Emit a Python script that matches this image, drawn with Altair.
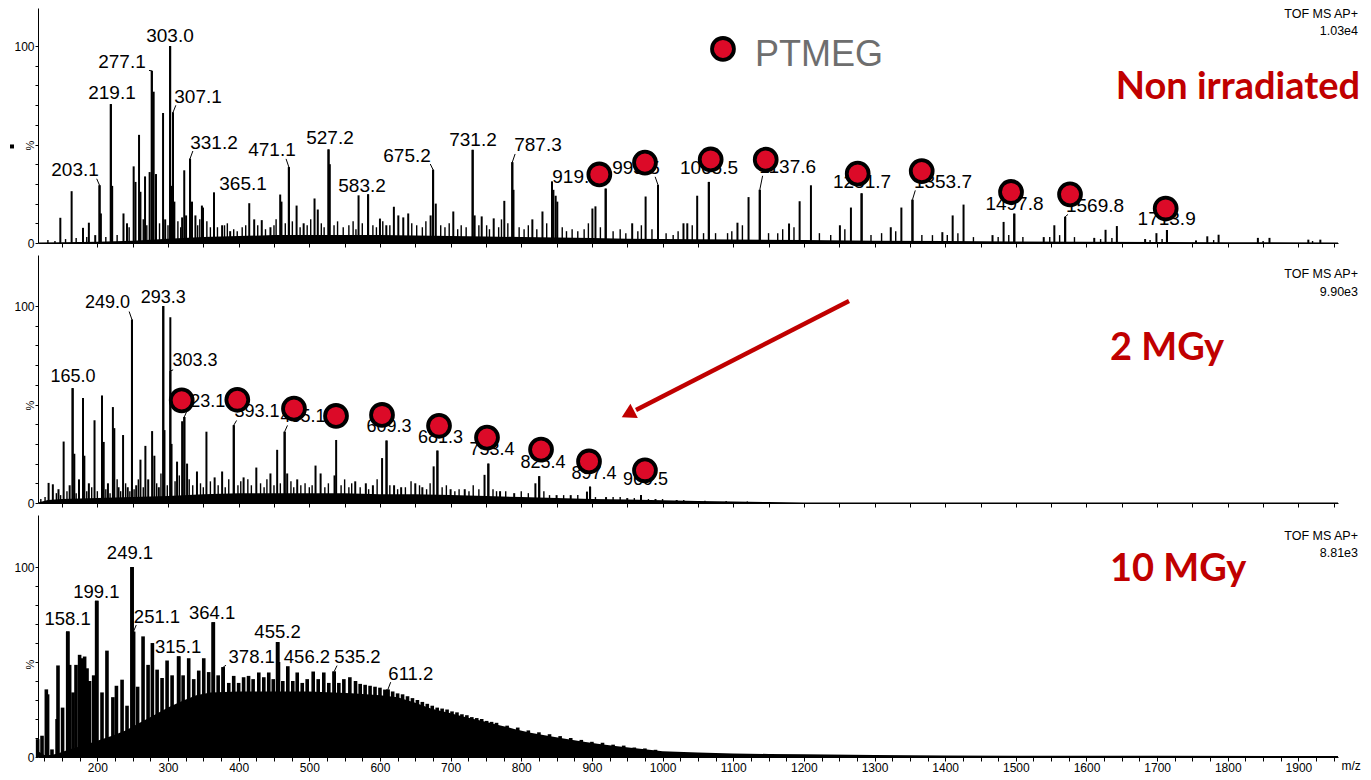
import altair as alt
import pandas as pd

FONT = "Liberation Sans"
RED = "#C00000"
DOT = "#DC0A28"
MZ_DOMAIN = [116, 1956]
W = 1300

# ---------------- Non irradiated (top) ----------------
top_peaks = [(147.6,12.8),(163.6,26.3),(179.7,7.7),(188.0,10.3),(197.0,4.0),(203.1,29.3),(205.0,15.0),(219.1,70.5),(221.0,29.0),(237.0,15.0),(242.0,10.0),(251.4,38.9),(254.0,31.0),(259.0,54.9),(261.0,26.0),(267.5,33.8),(274.0,36.0),(277.1,87.4),(279.7,76.8),(283.0,35.0),(293.0,66.0),(296.0,12.0),(303.0,100.0),(304.8,29.0),(307.1,66.3),(309.0,21.0),(320.0,13.0),(323.0,36.9),(325.6,14.0),(331.2,42.8),(334.0,21.0),(338.8,14.0),(348.0,19.0),(349.5,18.0),(365.1,25.6),(376.6,9.0),(388.0,6.0),(415.0,20.2),(422.0,12.0),(432.7,11.6),(445.0,8.0),(458.8,24.6),(460.6,21.0),(471.1,38.5),(482.0,19.0),(492.0,10.0),(507.4,22.6),(512.0,17.0),(527.2,47.5),(529.0,40.0),(569.7,24.2),(583.2,24.7),(600.0,12.4),(609.0,9.0),(619.7,18.4),(626.0,14.0),(633.0,13.0),(640.0,15.0),(671.7,14.0),(675.2,37.2),(679.0,20.0),(703.8,16.0),(731.2,47.3),(734.0,14.0),(744.0,13.5),(761.0,12.5),(776.0,21.4),(787.3,41.0),(789.0,27.0),(815.7,12.0),(830.0,16.0),(843.5,31.3),(845.5,27.0),(848.7,24.0),(851.0,21.0),(900.7,17.5),(905.0,18.6),(919.5,27.6),(957.0,10.0),(976.0,23.6),(993.5,29.5),(1029.6,10.0),(1035.0,10.0),(1049.0,24.0),(1065.5,31.0),(1106.0,10.3),(1121.7,23.3),(1137.6,27.0),(1179.0,9.9),(1194.0,21.2),(1210.0,29.3),(1251.0,9.0),(1266.6,18.0),(1281.7,25.2),(1323.0,8.0),(1338.0,18.0),(1353.7,22.0),(1396.0,5.5),(1410.6,14.0),(1426.0,19.5),(1467.0,4.0),(1482.7,10.7),(1497.8,14.9),(1539.5,3.0),(1554.5,9.0),(1569.8,13.3),(1611.0,2.6),(1627.0,6.7),(1643.0,8.6),(1683.0,2.0),(1699.0,5.0),(1713.9,6.6),(1755.0,1.3),(1771.0,3.4),(1787.0,4.2),(1842.6,2.6),(1859.0,2.6),(1914.0,1.7),(1931.0,1.7)]
top_grass = [(130,1.5),(140,1),(155,2),(170,2.5),(185,3),(212,3),(228,4),(245,8),(265,12),(270,9),(288,10),(300,9),(314,11),(318,8),(342,9),(345,12),(355,11),(360,8),(370,8),(380,9),(384,10),(393,7),(398,6),(405,8),(410,9),(427,9),(438,7),(450,9),(453,12),(466,10),(476,11),(487,8),(497,9),(502,12),(517,10),(521,8),(535,9),(540,11),(548,8),(556,9),(562,11),(566,7),(575,10),(590,9),(595,8),(604,11),(614,9),(645,10),(652,9),(660,8),(665,11),(686,9),(692,8),(698,10),(710,7),(715,9),(722,8),(740,9),(751,9),(755,7),(768,8),(772,12),(781,10),(797,8),(804,7),(810,9),(822,7),(836,10),(858,8),(864,6),(872,7),(880,6),(889,7),(895,10),(912,8),(930,6),(940,7),(948,5),(965,6),(970,9),(985,7),(1005,5),(1015,4),(1022,6),(1042,9),(1058,5),(1075,5),(1092,5),(1098,6),(1113,9),(1150,5),(1163,5),(1170,7),(1186,8),(1222,5),(1238,4),(1258,7),(1295,4),(1310,5),(1330,6),(1367,4),(1382,4),(1403,4),(1418,5),(1440,3),(1475,3),(1490,4),(1510,3),(1548,3),(1562,4),(1583,3),(1620,2),(1636,2.5),(1690,1.5),(1707,2),(1780,1.5),(1850,1),(1920,1)]
top_floor = [(116,0.2),(150,0.4),(200,0.6),(250,1.2),(300,2.2),(350,3.0),(400,3.5),(450,4.0),(500,4.0),(550,4.0),(600,4.0),(650,3.8),(700,3.6),(750,3.3),(800,3.0),(850,2.8),(900,2.5),(950,2.2),(1000,2.0),(1100,1.8),(1200,1.5),(1300,1.2),(1400,1.0),(1500,0.8),(1600,0.6),(1700,0.5),(1800,0.4),(1956,0.3)]
# text, label m/z, label %, peak m/z, peak %, leader
top_labels = [("303.0",302.8,105.1,303.0,100,False),("277.1",234.9,91.9,277.1,87.4,True),("219.1",220.7,76.3,219.1,70.5,False),("307.1",342.5,74.2,307.1,66.3,True),("331.2",365.1,51.0,331.2,42.8,True),("471.1",447.2,47.0,471.1,38.5,True),("527.2",529.3,53.5,527.2,47.5,False),("203.1",168.4,36.9,203.1,29.3,True),("365.1",406.2,29.8,365.1,25.6,True),("583.2",574.6,28.8,583.2,24.7,False),("675.2",638.3,44.4,675.2,37.2,True),("731.2",731.7,52.5,731.2,47.3,False),("787.3",823.7,49.5,787.3,41.0,True),("919.5",877.5,33.3,919.5,27.6,False),("993.5",962.4,37.9,993.5,29.5,True),("1065.5",1065.7,37.9,1065.5,31.0,False),("1137.6",1177.1,38.4,1137.6,27.0,True),("1281.7",1282.3,31.0,1281.7,25.2,False),("1353.7",1396.9,31.0,1353.7,22.0,True),("1497.8",1498.1,19.7,1497.8,14.9,False),("1569.8",1612.1,18.8,1569.8,13.3,True),("1713.9",1713.5,12.1,1713.9,6.6,False)]
top_markers = [(910.5,34.8),(975.1,40.8),(1068.1,42.4),(1146.0,42.3),(1276.2,35.2),(1366.8,36.5),(1493.2,25.9),(1576.7,24.7),(1712.1,17.5)]
top_tof = [("TOF MS AP+",1984.3,116.0),("1.03e4",1984.3,107.6)]
top_name = [("Non irradiated",1987.2,78.7)]
legend_dot = [(1085.5,98.5)]
legend_text = [("PTMEG",1130.8,95.4)]
top_square = [(79.2,49.0)]

# ---------------- 2 MGy (middle) ----------------
mid_peaks = [(131,10.2),(137,9.5),(145,7),(152.3,31.2),(160.8,9),(165.0,58.3),(167.4,25),(174,12),(179.7,53.3),(181.6,24),(188,10),(196,42),(206.6,54.6),(209,31),(215,10),(222,48.7),(224,38),(230,8),(236.4,34.5),(243,8),(249.0,93.1),(255,9),(261,22),(268,29),(272,12),(277.5,36.5),(280.7,24),(287,8),(293.3,100),(295,37),(303.3,94.3),(305,30),(312.8,21),(320,41.5),(323.1,43.7),(327,20),(341,16),(354.4,36.2),(366,13),(376.6,16),(393.1,39.5),(407,13),(425,18),(445,15),(454.5,27),(465.1,36.2),(468.7,15),(482.9,12),(508.8,19),(516,15),(535.7,14),(538,32),(565,11),(580,10),(590,9),(603,22.8),(609.3,31.7),(620,9),(630,8),(650,10),(660,8),(676,18.6),(681.3,26.6),(700,7),(720,7),(748,14.3),(753.4,20),(770,6),(790,5),(820,10),(825.4,13.6),(850,4),(870,4),(893,5.8),(897.4,8.3),(920,3),(950,2.5),(969.5,4),(990,2),(1020,1.5),(1050,1)]
mid_grass = [(120,2),(126,3),(142,5),(148,4),(157,6),(170,5),(185,6),(192,8),(200,6),(212,7),(218,5),(228,12),(233,6),(240,10),(246,6),(252,7),(258,12),(265,8),(284,10),(290,15),(299,9),(310,11),(316,14),(330,12),(335,9),(346,10),(350,8),(360,11),(371,9),(381,8),(386,12),(399,9),(403,11),(413,12),(418,9),(431,10),(436,8),(440,12),(450,9),(459,10),(474,11),(478,8),(488,9),(494,10),(500,8),(504,9),(522,8),(527,10),(545,9),(550,12),(556,8),(560,10),(572,8),(584,7),(596,12),(614,9),(625,7),(636,8),(644,11),(656,9),(666,7),(671,10),(688,8),(694,9),(706,6),(712,7),(726,6),(732,9),(740,7),(760,7),(765,6),(778,6),(800,6),(810,5),(832,6),(840,4),(860,4),(880,4),(905,3),(930,3),(940,3),(960,2.5),(980,2),(1000,2),(1030,1.5),(1060,1.2),(1090,1),(1120,0.8)]
mid_floor = [(116,0.3),(130,1.5),(150,2),(200,2.5),(250,3),(300,3.5),(350,4.5),(400,5),(450,5),(500,5),(550,5),(600,4.5),(650,4.5),(700,4),(750,3.5),(800,3),(850,2.5),(900,2),(950,1.8),(1000,1.4),(1050,1),(1100,0.7),(1150,0.5),(1200,0.3),(1956,0.2)]
mid_labels = [("249.0",214.4,101.5,249.0,93.1,True),("293.3",293.4,104.3,293.3,100,False),("303.3",338.2,71.9,303.3,67,True),("165.0",165.5,64.1,165.0,58.3,False),("323.1",349.1,51.3,323.1,43.7,True),("393.1",426.0,46.2,393.1,39.5,True),("465.1",491.0,43.7,465.1,36.2,True),("609.3",612.8,38.4,609.3,31.7,False),("681.3",685.7,32.8,681.3,26.6,False),("753.4",758.6,26.8,753.4,20,False),("825.4",830.8,20.1,825.4,13.6,False),("897.4",903.0,14.9,897.4,8.3,False),("969.5",975.9,11.6,969.5,4,False)]
mid_markers = [(319.4,52.1),(398.1,52.4),(478.3,47.9),(537.8,44.2),(602.9,44.7),(683.6,39.2),(751.5,33.2),(828.0,27.1),(895.9,21.1),(975.1,16.6)]
mid_tof = [("TOF MS AP+",1984.3,116.2),("9.90e3",1984.3,107.1)]
mid_name = [("2 MGy",1633.3,78.2)]
arrow_line = [(1263.9,102.5,962.4,47.2)]
arrow_head = [(953.9,45.7)]

# ---------------- 10 MGy (bottom) ----------------
bot_peaks = [(115.5,9.4),(121.7,11.2),(127.8,35.6),(129.6,33),(135.8,4),(143,20),(144.3,48.2),(150.8,26),(158.1,66.1),(160.8,48.5),(165.6,34),(169.8,48.5),(174.9,53.8),(178.3,52),(182,52.9),(185.4,46.7),(189,40),(194.8,43),(199.1,82.2),(206.6,34),(213.6,56),(222,31.5),(227,37.5),(235,40.7),(242,27),(249.1,100),(251.1,66),(257,37),(264.7,63.5),(271.8,48.5),(277.9,60),(284.6,46),(291.6,41.6),(298.7,50.8),(305.8,43),(315.1,53),(321.4,43),(329.3,52),(336.4,41),(343.5,45.5),(350.6,52),(357.6,44.7),(364.1,71),(371,43),(378.1,47.3),(386,39),(393,42.7),(400,39),(407,42),(414,42.7),(420.5,41),(428.5,44.5),(435.6,42),(442.6,44.5),(449,41),(455.2,60.5),(456.2,50),(462.5,40),(469.6,47.8),(476.6,40),(482.9,44.5),(490,39),(497,41),(505.5,45),(512.6,41),(520.5,44.5),(527.6,39),(535.2,45),(541.8,39),(548.9,41),(557.4,42),(565.4,40),(572,38.5),(579,38),(586,37.5),(593,37),(600,36.5),(607,35.5),(611.2,35.5),(618,34.5),(625,33.5),(632,33),(639,32),(646,31),(653,30),(660,29),(667,28),(674,27),(681,26),(688,25.5),(695,25),(702,24),(709,23.5),(716,22.5),(723,22),(730,21),(737,20.5),(744,20),(751,19),(758,18.5),(765,18),(780,16.5),(795,15.5),(810,14),(825,13),(840,12),(855,11),(870,10),(885,9),(900,8),(915,7.5),(930,6.5),(945,6),(960,5),(975,4.5),(990,3.8)]
bot_floor = [(116,3),(125,1),(135,1),(145,2),(160,4),(180,6),(200,8.5),(220,11),(240,14),(260,18),(280,22),(300,26),(320,29.5),(340,32.5),(360,34),(400,34.5),(500,34.5),(560,33.5),(600,32.5),(625,31.5),(650,28.5),(672,25.5),(700,23),(719,21.2),(745,19),(766,17),(790,14.8),(813,12.8),(837,11.2),(860,9.8),(884,8.3),(908,7),(930,5.9),(955,4.9),(978,3.9),(1000,3.0),(1050,2.4),(1100,1.9),(1150,1.6),(1200,1.4),(1300,1.0),(1400,0.8),(1500,0.7),(1700,0.6),(1956,0.5)]
bot_labels = [("249.1",246.2,107.3,249.1,100,False),("199.1",198.5,87.1,199.1,82.2,False),("158.1",157.8,72.9,158.1,66.1,False),("251.1",284.4,73.8,251.1,66,True),("364.1",362.3,75.9,364.1,71,False),("315.1",314.2,58.1,315.1,53,False),("455.2",455.0,66.0,455.2,60.5,False),("378.1",418.5,52.6,378.1,47.3,True),("456.2",496.7,52.6,456.2,50,True),("535.2",568.2,52.4,535.2,45,True),("611.2",643.7,43.7,611.2,35.5,True)]
bot_tof = [("TOF MS AP+",1984.3,116.3),("8.81e3",1984.3,107.4)]
bot_name = [("10 MGy",1633.3,98.4)]

top_ticks = list(range(150, 1951, 50))
bot_ticks = list(range(125, 1951, 25))
y_ticks = list(range(0, 101, 10))


def xy(pairs):
    d = pd.DataFrame(pairs, columns=["mz", "pct"])
    d["base"] = 0.0
    return d


def txt(rows):
    return pd.DataFrame(rows, columns=["label", "mz", "pct"])


def y_axis(title_y):
    return alt.Axis(values=y_ticks,
                    labelExpr="datum.value == 0 || datum.value == 100 ? datum.label : ''",
                    tickSize=3, labelFontSize=12, labelFont=FONT, labelColor="black",
                    labelPadding=1, labelFlush=False, labelOverlap=False,
                    domainColor="black", tickColor="black", grid=False,
                    title="%", titleFont=FONT, titleFontSize=11, titleFontWeight="normal",
                    titleColor="black", titleX=-8, titleY=title_y, titleAngle=270,
                    titleAlign="center", titleBaseline="middle")


def x_axis(bottom):
    if bottom:
        return alt.Axis(values=bot_ticks, format="d",
                        labelExpr="datum.value % 100 === 0 ? datum.label : ''",
                        tickSize=4, labelFontSize=12, labelFont=FONT, labelColor="black",
                        labelPadding=1, labelFlush=False, labelOverlap=False,
                        domainColor="black", tickColor="black", grid=False,
                        title="m/z", titleFont=FONT, titleFontSize=12, titleFontWeight="normal",
                        titleColor="black", titleX=W + 3, titleY=8, titleAlign="left",
                        titleBaseline="middle")
    return alt.Axis(values=top_ticks, labels=False, tickSize=4, domainColor="black",
                    tickColor="black", grid=False, title=None)


def panel(height, ymax, title_y, bottom, peaks, grass, floor, labels, markers,
          tof, name, name_align, spike_width=2.0, label_size=18.5, extra=()):
    xs = alt.X("mz:Q", scale=alt.Scale(domain=MZ_DOMAIN, nice=False, zero=False),
               axis=x_axis(bottom), title=None if not bottom else "m/z")
    ys = alt.Y("pct:Q", scale=alt.Scale(domain=[0, ymax], nice=False, zero=True),
               axis=y_axis(title_y), title="%")
    layers = []
    layers.append(alt.Chart(xy(floor)).mark_area(color="black", opacity=1).encode(x=xs, y=ys))
    if grass:
        layers.append(alt.Chart(xy(grass)).mark_rule(color="black", strokeWidth=1.4)
                      .encode(x=xs, y=ys, y2="base:Q"))
    lab = pd.DataFrame(labels, columns=["label", "mz", "pct", "pmz", "ppct", "lead"])
    pk = xy(list(peaks) + [(r[3], r[4]) for r in labels])
    layers.append(alt.Chart(pk).mark_rule(color="black", strokeWidth=spike_width)
                  .encode(x=xs, y=ys, y2="base:Q"))
    leads = []
    for r in labels:
        if r[5]:
            sign = 1 if r[1] > r[3] else -1
            y0 = r[2] - 4.3
            if y0 > r[4]:
                leads.append((r[3] + sign * 4, y0, r[3], r[4]))
    if leads:
        ld = pd.DataFrame(leads, columns=["mz", "pct", "mz2", "pct2"])
        layers.append(alt.Chart(ld).mark_rule(color="black", strokeWidth=1)
                      .encode(x=xs, y=ys, x2="mz2:Q", y2="pct2:Q"))
    layers.append(alt.Chart(lab[["label", "mz", "pct"]]).mark_text(
        font=FONT, fontSize=label_size, color="black", align="center", baseline="middle")
        .encode(x=xs, y=ys, text="label:N"))
    if markers:
        layers.append(alt.Chart(xy(markers)).mark_point(
            shape="circle", filled=True, fill=DOT, stroke="black", strokeWidth=3.8,
            size=480, opacity=1).encode(x=xs, y=ys))
    layers.append(alt.Chart(txt(tof)).mark_text(
        font=FONT, fontSize=12.5, color="black", align="right", baseline="middle")
        .encode(x=xs, y=ys, text="label:N"))
    layers.append(alt.Chart(txt(name)).mark_text(
        font="Lato", fontWeight="bold", fontSize=38, color=RED, align=name_align,
        baseline="middle").encode(x=xs, y=ys, text="label:N"))
    for build in extra:
        layers.append(build(xs, ys))
    return alt.layer(*layers).properties(width=W, height=height)


def top_extras():
    def dot(xs, ys):
        return alt.Chart(xy(legend_dot)).mark_point(
            shape="circle", filled=True, fill=DOT, stroke="black", strokeWidth=3.8,
            size=480, opacity=1).encode(x=xs, y=ys)

    def ptmeg(xs, ys):
        return alt.Chart(txt(legend_text)).mark_text(
            font=FONT, fontSize=36, color="#6E6E6E", align="left", baseline="middle"
        ).encode(x=xs, y=ys, text="label:N")

    def square(xs, ys):
        return alt.Chart(xy(top_square)).mark_point(
            shape="square", filled=True, color="black", size=16, opacity=1
        ).encode(x=xs, y=ys)
    return (dot, ptmeg, square)


def mid_extras():
    def line(xs, ys):
        d = pd.DataFrame(arrow_line, columns=["mz", "pct", "mz2", "pct2"])
        return alt.Chart(d).mark_rule(color=RED, strokeWidth=4.5).encode(
            x=xs, y=ys, x2="mz2:Q", y2="pct2:Q")

    def head(xs, ys):
        return alt.Chart(xy(arrow_head)).mark_point(
            shape="triangle", filled=True, color=RED, size=260, angle=242.6, opacity=1
        ).encode(x=xs, y=ys)
    return (line, head)


p1 = panel(235, 119.29, 137, False, top_peaks, top_grass, top_floor, top_labels,
           top_markers, top_tof, top_name, "right", label_size=19, extra=top_extras())
p2 = panel(248, 125.9, 150, False, mid_peaks, mid_grass, mid_floor, mid_labels,
           mid_markers, mid_tof, mid_name, "left", label_size=18, extra=mid_extras())
p3 = panel(242, 127.4, 149, True, bot_peaks, [], bot_floor, bot_labels,
           [], bot_tof, bot_name, "left", spike_width=3.6)

chart = alt.vconcat(p1, p2, p3, spacing=6).properties(
    padding={"left": 2, "top": 0, "right": 0, "bottom": 0}
).configure_view(stroke=None)

chart.save("out.html", embed_options={"renderer": "svg", "actions": False})
